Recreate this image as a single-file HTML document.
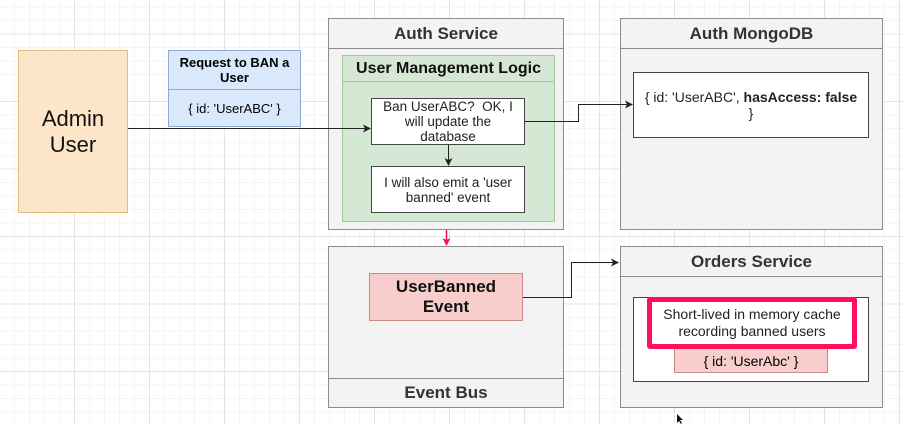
<!DOCTYPE html>
<html><head><style>
body{margin:0;width:903px;height:424px;overflow:hidden;position:relative;font-family:"Liberation Sans",Arial,sans-serif;
background-color:#fff;
background-image:linear-gradient(to right,#e4e4e4 1px,transparent 1px),linear-gradient(to bottom,#e4e4e4 1px,transparent 1px),linear-gradient(to right,#f4f4f4 1px,transparent 1px),linear-gradient(to bottom,#f4f4f4 1px,transparent 1px);
background-size:75px 67.5px,75px 67.5px,15px 13.5px,15px 13.5px;background-position:-1px -1px,0 -34px,-1px -1px,0 -34px}
.b{position:absolute;box-sizing:border-box}
.c{display:flex;align-items:center;justify-content:center;text-align:center}
.g{background:#f3f3f3;border:1px solid #8c8c8c}
.h{position:absolute;left:0;right:0;top:0;border-bottom:1px solid #8c8c8c;font-weight:bold;color:#333;font-size:17px}
.w{background:#fff;border:1px solid #444;font-size:13.5px;color:#222;line-height:15px}
</style></head><body>
<div class="b c" style="left:18px;top:50px;width:110px;height:163px;background:#fde5c8;border:1px solid #e7bb7e;font-size:22px;line-height:26px;color:#111">Admin<br>User</div>
<div class="b" style="left:168px;top:50px;width:133px;height:77px;background:#dae8fc;border:1px solid #8ea9d3">
<div class="b c" style="left:0;top:0;width:131px;height:39px;border-bottom:1px solid #8ea9d3;font-weight:bold;font-size:13px;line-height:15px">Request to BAN a User</div>
<div class="b c" style="left:0;top:39px;width:131px;height:37px;font-size:13px">{ id: 'UserABC' }</div></div>

<div class="b g" style="left:328px;top:18px;width:236px;height:212px"><div class="h c" style="height:29px">Auth Service</div></div>
<div class="b" style="left:342px;top:55px;width:213px;height:167px;background:#d5e8d4;border:1px solid #9fc79a">
<div class="b c" style="left:0;top:0;width:211px;height:26px;border-bottom:1px solid #9fc79a;font-weight:bold;font-size:16px;color:#111">User Management Logic</div></div>
<div class="b c w" style="left:371px;top:98px;width:154px;height:47px;padding:0 10px"><span>Ban UserABC?&nbsp; OK, I will update the database</span></div>
<div class="b c w" style="left:371px;top:166px;width:154px;height:47px;padding:0 8px"><span>I will also emit a 'user banned' event</span></div>

<div class="b g" style="left:620px;top:18px;width:263px;height:212px"><div class="h c" style="height:29px">Auth MongoDB</div></div>
<div class="b c w" style="left:633px;top:72px;width:236px;height:66px;font-size:14px;line-height:16px"><span>{ id: 'UserABC', <b>hasAccess: false</b><br>}</span></div>

<div class="b g" style="left:328px;top:246px;width:236px;height:162px"><div class="b c" style="left:0;right:0;top:131px;height:29px;border-top:1px solid #8c8c8c;font-weight:bold;font-size:17px;color:#333">Event Bus</div></div>
<div class="b c" style="left:369px;top:273px;width:154px;height:48px;background:#f8cecc;border:1px solid #c98a88;font-weight:bold;font-size:17px;line-height:20px;color:#111">UserBanned<br>Event</div>

<div class="b g" style="left:620px;top:246px;width:263px;height:162px"><div class="h c" style="height:29px">Orders Service</div></div>
<div class="b" style="left:633px;top:297px;width:236px;height:85px;background:#fff;border:1px solid #444"></div>
<div class="b c" style="left:674px;top:348px;width:154px;height:25px;background:#f8cecc;border:1px solid #c98a88;font-size:14px">{ id: 'UserAbc' }</div>
<div class="b c" style="left:647px;top:297px;width:210px;height:52px;background:#fff;border:5px solid #ff0f5c;border-radius:3px;font-size:14px;line-height:17px;color:#222">Short-lived in memory cache recording banned users</div>

<svg class="b" style="left:0;top:0" width="903" height="424">
<defs><marker id="a" markerWidth="8" markerHeight="8" refX="7" refY="4" orient="auto" markerUnits="userSpaceOnUse"><path d="M0,0 L8,4 L0,8 L2,4z" fill="#222"/></marker>
<marker id="p" markerWidth="8" markerHeight="8" refX="7" refY="4" orient="auto" markerUnits="userSpaceOnUse"><path d="M0,0 L8,4 L0,8 L2,4z" fill="#f0105a"/></marker></defs>
<g stroke="#222" stroke-width="1" fill="none">
<path d="M128 128.5 H370" marker-end="url(#a)"/>
<path d="M448.5 145 V165" marker-end="url(#a)"/>
<path d="M525 121.5 H578.5 V104.5 H632" marker-end="url(#a)"/>
<path d="M523 297.5 H571.5 V262.5 H618" marker-end="url(#a)"/>
</g>
<path d="M446.5 230 V245" stroke="#f0105a" stroke-width="1.5" marker-end="url(#p)"/>
<path d="M677 414 l0 9 l2 -2 l2 3 l1 -1 l-2 -3 l3 0z" fill="#111"/>
</svg>
</body></html>
